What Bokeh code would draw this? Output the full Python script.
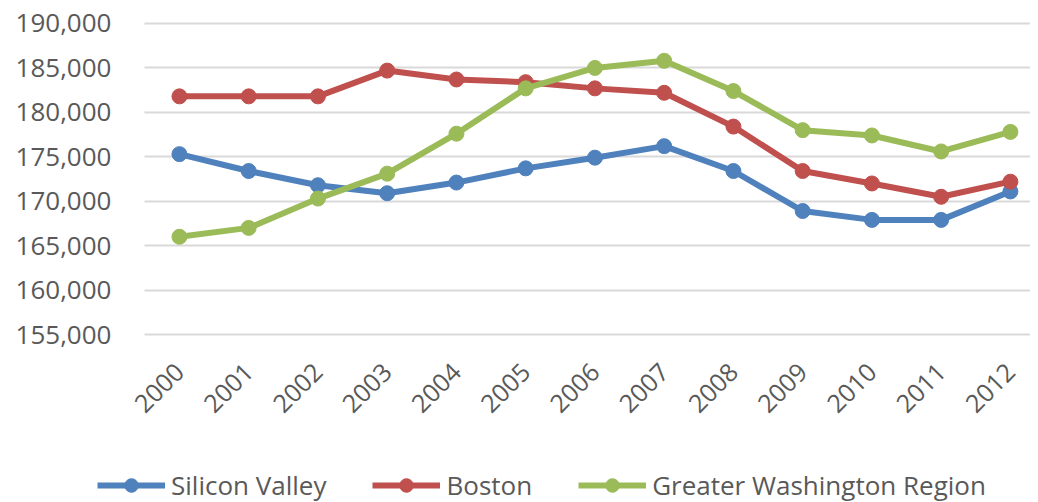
from bokeh.plotting import figure
from bokeh.models import (Range1d, FixedTicker, NumeralTickFormatter, Legend, LegendItem)
from bokeh.embed import file_html
from bokeh.resources import INLINE
import math

years = ["2000", "2001", "2002", "2003", "2004", "2005", "2006",
         "2007", "2008", "2009", "2010", "2011", "2012"]
silicon_valley = [175300, 173400, 171800, 170900, 172100, 173700, 174900,
                  176200, 173400, 168900, 167900, 167900, 171100]
boston = [181800, 181800, 181800, 184700, 183700, 183400, 182700,
          182200, 178400, 173400, 172000, 170500, 172200]
greater_washington = [166000, 167000, 170300, 173100, 177600, 182700, 185000,
                      185800, 182400, 178000, 177400, 175600, 177800]
y_ticks = [155000, 160000, 165000, 170000, 175000, 180000, 185000, 190000]

series_names = ["Silicon Valley", "Boston", "Greater Washington Region"]
series_values = [silicon_valley, boston, greater_washington]
colors = ["#4f81bd", "#c0504d", "#9bbb59"]

xs = list(range(len(years)))
FONT = "Open Sans"
TXT = "#595959"

# the whole canvas is the plotting frame; axes sit at fixed positions inside it
X0, X1 = -2.584, 12.29
Y0, Y1 = 136098, 192588
p = figure(frame_width=1030, frame_height=502, min_border=0,
           x_range=Range1d(X0, X1), y_range=Range1d(Y0, Y1),
           output_backend="svg", toolbar_location=None)
p.outline_line_color = None
p.background_fill_color = "white"

AX_X = -0.505      # x position of the value axis
AX_Y = 154662      # y position of the category axis

items = []
for name, vals, c in zip(series_names, series_values, colors):
    lr = p.line(xs, vals, line_color=c, line_width=6, line_join="round")
    sr = p.scatter(xs, vals, size=15, fill_color=c, line_color=c)
    items.append(LegendItem(label=name, renderers=[lr, sr]))

p.xaxis.fixed_location = AX_Y
p.yaxis.fixed_location = AX_X
p.xaxis.ticker = FixedTicker(ticks=xs)
p.xaxis.major_label_overrides = {i: y for i, y in zip(xs, years)}
p.xaxis.major_label_orientation = math.pi / 4
p.yaxis.ticker = FixedTicker(ticks=y_ticks)
p.yaxis.formatter = NumeralTickFormatter(format="0,0")
for ax in (p.xaxis, p.yaxis):
    ax.axis_line_color = None
    ax.major_tick_line_color = None
    ax.minor_tick_line_color = None
    ax.major_label_text_font = FONT
    ax.major_label_text_font_size = "25px"
    ax.major_label_text_color = TXT
p.yaxis.major_label_text_font_size = "26px"
p.yaxis.major_label_standoff = 27
p.xaxis.major_label_standoff = 24

p.xgrid.grid_line_color = None
p.ygrid.grid_line_color = "#d9d9d9"
p.ygrid.grid_line_width = 2
p.ygrid.cross_bounds = (AX_X, 12.36)

legend = Legend(items=items, orientation="horizontal", location=(97, -1),
                label_text_font=FONT, label_text_font_size="26px", label_text_color=TXT,
                glyph_width=68, glyph_height=34, label_standoff=6, spacing=46,
                padding=0, margin=0, border_line_color=None, background_fill_alpha=0)
p.add_layout(legend, "center")

open("out.html", "w").write(file_html(p, INLINE))
